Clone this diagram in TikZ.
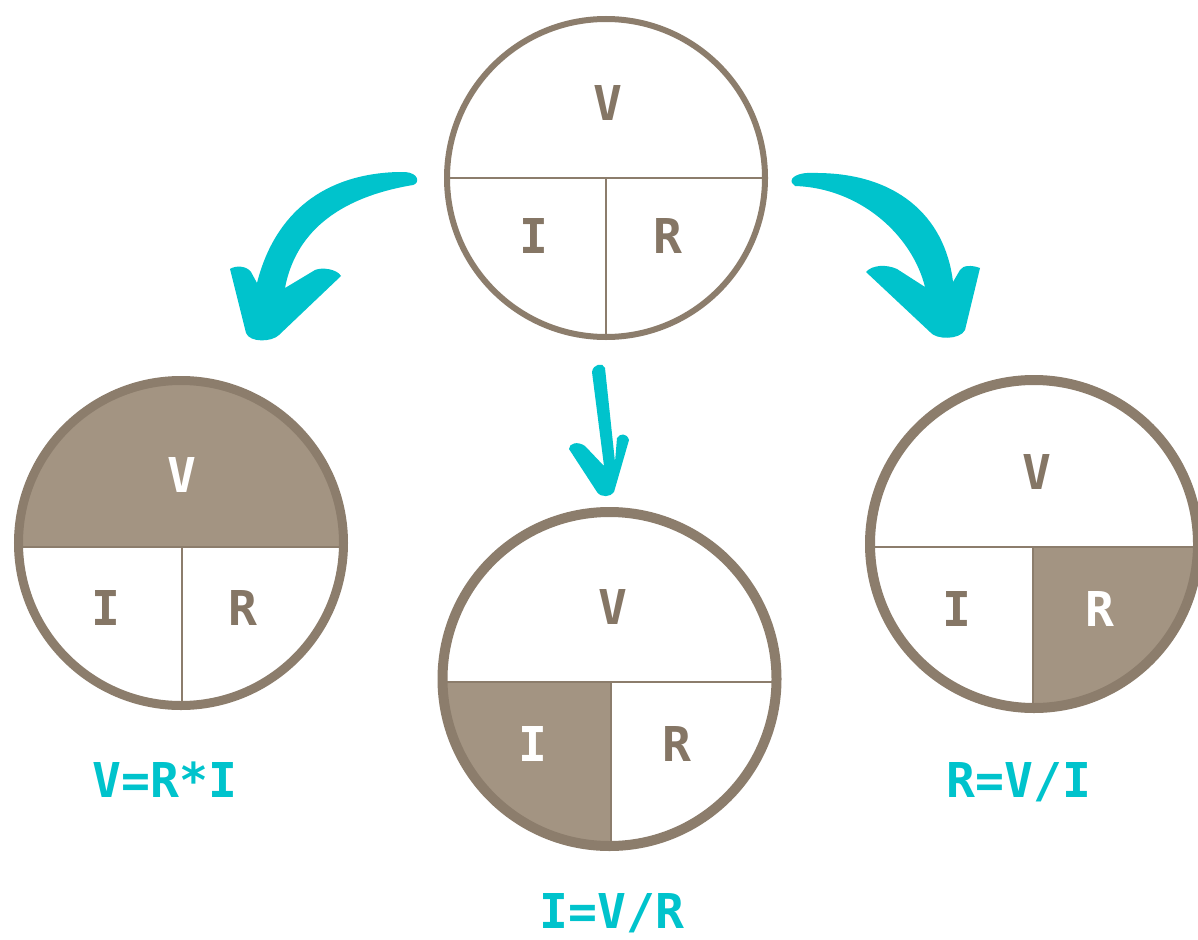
\documentclass[tikz,border=0pt]{standalone}
\usepackage{fontspec}
\newfontfamily\ohmfont{DejaVu Sans Mono}
\definecolor{ringbrown}{RGB}{140,125,108}
\definecolor{fillbrown}{RGB}{163,148,130}
\definecolor{letterbrown}{RGB}{133,118,101}
\definecolor{teal}{RGB}{0,195,204}
\tikzset{
  ring/.style={circle, draw=ringbrown, inner sep=0pt, outer sep=0pt},
  divider/.style={draw=ringbrown, line width=1.6pt},
  letter/.style={anchor=base, inner sep=0pt, text=letterbrown,
    font=\ohmfont\bfseries\fontsize{48}{48}\selectfont},
  whiteletter/.style={letter, text=white},
  formula/.style={anchor=base, inner sep=0pt, text=teal,
    font=\ohmfont\bfseries\fontsize{48}{48}\selectfont},
  brush/.style={fill=teal, draw=none}
}
\begin{document}
\begin{tikzpicture}[x=1pt,y=-1pt]
\useasboundingbox[fill=white] (0,0) rectangle (1198,939);

% ---- top circle: the plain triangle V / I R
\begin{scope}
  \clip (606,178) circle[radius=159pt];
  \draw[divider] (440,178) -- (775,178);
  \draw[divider] (606,178) -- (606,345);
\end{scope}
\node[ring, line width=6pt, minimum size=318pt] (top) at (606,178) {};
\node[letter] (topV) at (608,121) {V};
\node[letter] (topI) at (534,253) {I};
\node[letter] (topR) at (668,253) {R};

% ---- left circle: V highlighted
\begin{scope}
  \clip (181,543) circle[radius=162.5pt];
  \fill[fillbrown] (0,370) rectangle (360,547);
  \draw[divider] (10,547) -- (355,547);
  \draw[divider] (182,547) -- (182,715);
\end{scope}
\node[ring, line width=9pt, minimum size=325pt] (left) at (181,543) {};
\node[whiteletter] (leftV) at (182,492) {V};
\node[letter] (leftI) at (106,625) {I};
\node[letter] (leftR) at (243,625) {R};

% ---- middle circle: I highlighted
\begin{scope}
  \clip (609.5,679) circle[radius=167pt];
  \fill[fillbrown] (430,682) rectangle (611,860);
  \draw[divider] (430,682) -- (790,682);
  \draw[divider] (611,682) -- (611,860);
\end{scope}
\node[ring, line width=10pt, minimum size=334pt] (mid) at (609.5,679) {};
\node[letter] (midV) at (613,624) {V};
\node[whiteletter] (midI) at (533,761) {I};
\node[letter] (midR) at (677,761) {R};

% ---- right circle: R highlighted
\begin{scope}
  \clip (1034,544) circle[radius=164pt];
  \fill[fillbrown] (1033,547) rectangle (1210,720);
  \draw[divider] (860,547) -- (1210,547);
  \draw[divider] (1033,547) -- (1033,720);
\end{scope}
\node[ring, line width=10pt, minimum size=328pt] (right) at (1034,544) {};
\node[letter] (rightV) at (1037,489) {V};
\node[letter] (rightI) at (957,626) {I};
\node[whiteletter] (rightR) at (1100,626) {R};

% ---- brush-stroke arrows
\fill[brush] (398,172) .. controls (325,174) and (275,212) .. (257,283)
  -- (251,272) .. controls (247,266) and (236,265) .. (230,269)
  -- (246,333) .. controls (250,343) and (272,342) .. (279,335)
  -- (341,276) .. controls (337,269) and (322,267) .. (315,270)
  -- (285,288) .. controls (295,235) and (335,198) .. (413,185)
  .. controls (420,183) and (419,173) .. (405,172) -- cycle;

\fill[brush] (795,186) .. controls (860,188) and (912,235) .. (925,287)
  -- (897,269) .. controls (886,264) and (872,265) .. (866,272)
  -- (930,332) .. controls (936,340) and (960,340) .. (965,330)
  -- (980,268) .. controls (972,265) and (963,265) .. (960,270)
  -- (953,282) .. controls (945,215) and (895,172) .. (813,173)
  .. controls (800,172) and (789,177) .. (792,183) -- cycle;

\fill[brush] (592,372) -- (604,466)
  -- (585,446) .. controls (578,441) and (569,443) .. (569,449)
  -- (597,492) .. controls (601,498) and (611,497) .. (614,492)
  -- (629,440) .. controls (627,433) and (620,433) .. (617,438)
  -- (615,462) -- (605,368) .. controls (603,362) and (593,364) .. (592,372) -- cycle;

% ---- formulas
\node[formula] (fV) at (165,797) {V=R*I};
\node[formula] (fI) at (612,928) {I=V/R};
\node[formula] (fR) at (1019,797) {R=V/I};
\end{tikzpicture}
\end{document}
